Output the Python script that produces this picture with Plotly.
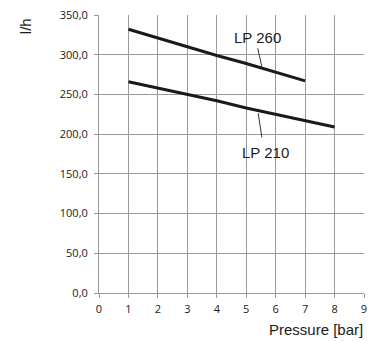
import plotly.graph_objects as go

pressure_260 = [1, 2, 3, 4, 5, 6, 7]
flow_260 = [332, 321, 310, 299, 289, 278, 267]
pressure_210 = [1, 2, 3, 4, 5, 6, 7, 8]
flow_210 = [266, 258, 250, 242, 233, 225, 217, 209]
x_ticks = list(range(0, 10))
y_ticks = [0, 50, 100, 150, 200, 250, 300, 350]

fig = go.Figure()
for xs, ys in [(pressure_260, flow_260), (pressure_210, flow_210)]:
    fig.add_trace(go.Scatter(x=xs, y=ys, mode="lines",
                             line=dict(color="#1a1a1a", width=3), showlegend=False))

lab_font = dict(family="Liberation Sans, Arial, sans-serif", size=15, color="#1a1a1a")
fig.add_annotation(x=5.53, y=285, ax=5.38, ay=310, axref="x", ayref="y", xref="x", yref="y",
                   text="", showarrow=True, arrowhead=0, arrowwidth=1, arrowcolor="#333")
fig.add_annotation(x=5.38, y=322, xref="x", yref="y", text="LP 260", showarrow=False, font=lab_font)
fig.add_annotation(x=5.53, y=196, ax=5.40, ay=228, axref="x", ayref="y", xref="x", yref="y",
                   text="", showarrow=True, arrowhead=0, arrowwidth=1, arrowcolor="#333")
fig.add_annotation(x=5.67, y=177, xref="x", yref="y", text="LP 210", showarrow=False, font=lab_font)

fig.add_annotation(xref="paper", yref="paper", x=1.005, y=-0.133, xanchor="right", yanchor="middle",
                   text="Pressure [bar]", showarrow=False, font=lab_font)
fig.add_annotation(xref="paper", yref="paper", x=-0.279, y=0.96, xanchor="center", yanchor="middle",
                   text="l/h", textangle=-90, showarrow=False, font=lab_font)

tick_font = dict(family="Open Sans, Noto Sans, sans-serif", size=11, color="#1a1a1a")
fig.update_layout(
    width=370, height=341, margin=dict(l=99, r=6, t=15, b=48, autoexpand=False),
    plot_bgcolor="white", paper_bgcolor="white", separators=", ",
    xaxis=dict(range=[0, 9], tickvals=x_ticks, showgrid=True, gridcolor="#9a9a9a", gridwidth=1,
               zeroline=False, showline=True, linecolor="#9a9a9a", mirror=False, automargin=False,
               ticks="outside", ticklen=4, tickcolor="#9a9a9a", tickfont=tick_font, fixedrange=True,
               ticklabelstandoff=2),
    yaxis=dict(range=[0, 350], tickvals=y_ticks, tickformat=".1f", showgrid=True, gridcolor="#9a9a9a",
               gridwidth=1, zeroline=False, showline=True, linecolor="#9a9a9a", automargin=False,
               ticks="outside", ticklen=4, tickcolor="#9a9a9a", tickfont=tick_font, fixedrange=True,
               ticklabelstandoff=4),
)
fig.write_html("out.html", config={"displayModeBar": False, "staticPlot": True})
with open("out.html", encoding="utf-8") as f:
    html = f.read()
html = html.replace("<head>", "<head><style>html,body{margin:0;padding:0;overflow:hidden}</style>", 1)
with open("out.html", "w", encoding="utf-8") as f:
    f.write(html)
